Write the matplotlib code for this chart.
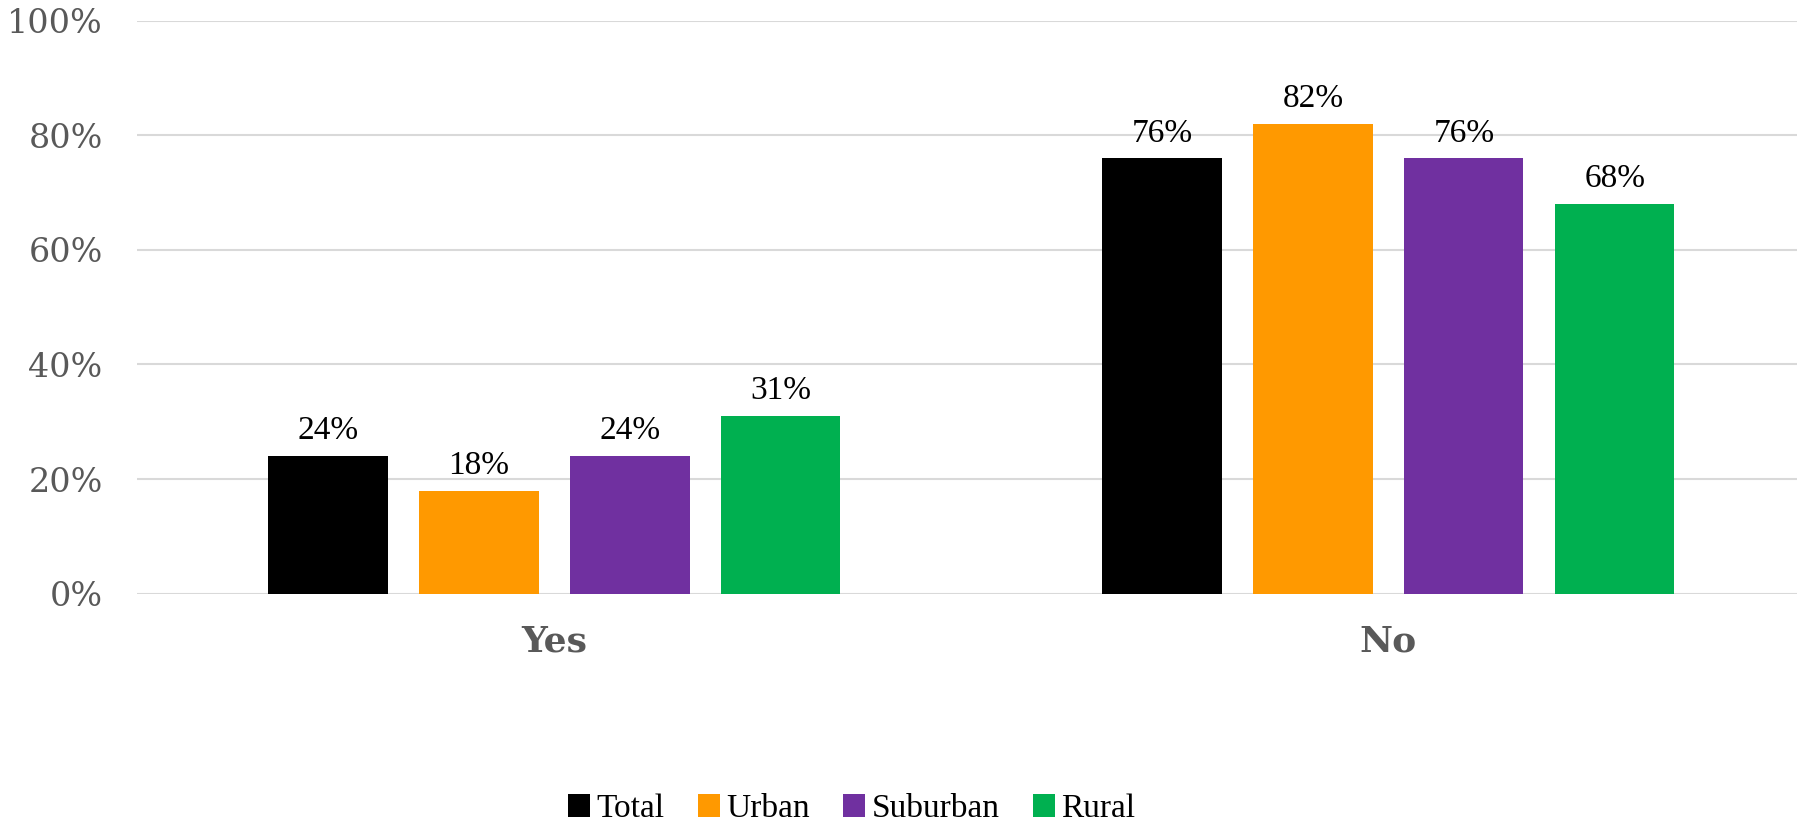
import matplotlib.pyplot as plt
import numpy as np
from matplotlib.patches import Patch

categories = ['Yes', 'No']
series = ['Total', 'Urban', 'Suburban', 'Rural']
total = [24, 76]
urban = [18, 82]
suburban = [24, 76]
rural = [31, 68]
colors = ['#000000', '#FF9900', '#7030A0', '#00B050']

values = [total, urban, suburban, rural]

fig = plt.figure(figsize=(17.97, 8.23), dpi=100)
ax = fig.add_axes([0.0765, 0.2787, 0.9235, 0.6961])

x = np.arange(len(categories))
step = 0.181
width = 0.143
for i, (name, vals, c) in enumerate(zip(series, values, colors)):
    bars = ax.bar(x + (i - 1.5) * step, vals, width, color=c, label=name, zorder=3)
    ax.bar_label(bars, labels=[f'{v}%' for v in vals], padding=7,
                 fontsize=24, family='Liberation Serif', color='black')

ax.set_ylim(0, 100)
ax.set_xlim(-0.5, 1.49)
ax.set_yticks(range(0, 101, 20))
ax.set_yticklabels([f'{t}%' for t in range(0, 101, 20)],
                   family='DejaVu Serif', fontsize=24, color='#595959')
ax.set_xticks(x)
ax.set_xticklabels(categories, family='DejaVu Serif', fontsize=26,
                   fontweight='bold', color='#595959')
ax.tick_params(axis='y', length=0, pad=25)
ax.tick_params(axis='x', length=0, pad=22)
ax.grid(axis='y', color='#D9D9D9', linewidth=1.5, zorder=0)
for s in ax.spines.values():
    s.set_visible(False)

handles = [Patch(facecolor=c, label=n) for n, c in zip(series, colors)]
fig.legend(handles=handles, loc='center', bbox_to_anchor=(0.474, 0.017),
           ncol=4, frameon=False, handlelength=0.65, handleheight=0.65,
           handletextpad=0.2, columnspacing=1.0,
           prop={'family': 'Liberation Serif', 'size': 24})

fig.savefig('out.png', dpi=100)
